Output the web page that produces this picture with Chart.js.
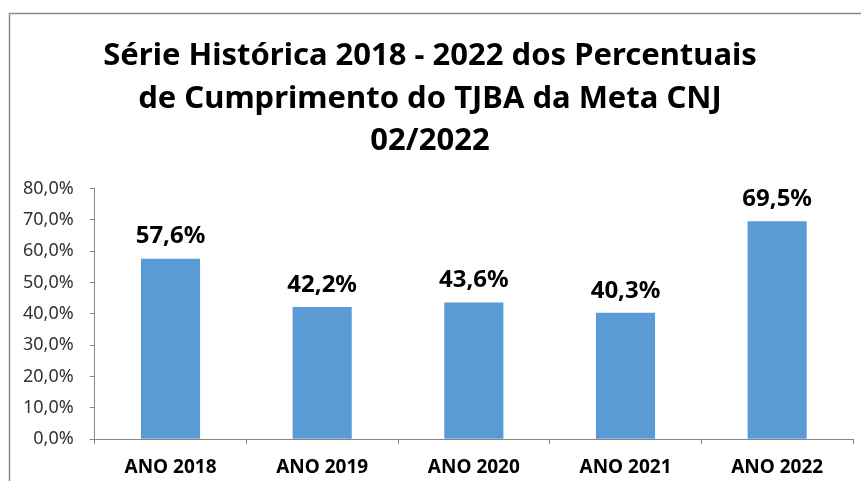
<!DOCTYPE html>
<html>
<head>
<meta charset="utf-8">
<script src="https://cdn.jsdelivr.net/npm/chart.js@4"></script>
<style>
  html, body { margin: 0; padding: 0; background: #fff; }
  #wrap { position: relative; width: 861px; height: 481px; }
</style>
</head>
<body>
<div id="wrap"><canvas id="chart"></canvas></div>
<script>
const titleLines = [
  "Série Histórica 2018 - 2022 dos Percentuais",
  "de Cumprimento do TJBA da Meta CNJ",
  "02/2022",
];
const categories = ["ANO 2018", "ANO 2019", "ANO 2020", "ANO 2021", "ANO 2022"];
const percentValues = [57.6, 42.2, 43.6, 40.3, 69.5];
const yMax = 80;
const yStep = 10;

const fmt = (v) => v.toFixed(1).replace(".", ",") + "%";

// frame around the chart, like the exported picture
const framePlugin = {
  id: "frame",
  beforeDraw(chart) {
    const ctx = chart.ctx;
    ctx.save();
    ctx.strokeStyle = "#8c8c8c";
    ctx.lineWidth = 1.5;
    ctx.beginPath();
    ctx.moveTo(9.5, chart.height);
    ctx.lineTo(9.5, 13.5);
    ctx.lineTo(chart.width, 13.5);
    ctx.stroke();
    ctx.restore();
  },
};

const valueLabels = {
  id: "valueLabels",
  afterDatasetsDraw(chart) {
    const ctx = chart.ctx;
    const meta = chart.getDatasetMeta(0);
    ctx.save();
    ctx.font = "bold 24px 'Noto Sans'";
    ctx.fillStyle = "#000";
    ctx.textAlign = "center";
    ctx.textBaseline = "bottom";
    meta.data.forEach((bar, i) => {
      ctx.fillText(fmt(percentValues[i]), bar.x, bar.y - 10);
    });
    ctx.restore();
  },
};

new Chart(document.getElementById("chart"), {
  type: "bar",
  data: {
    labels: categories,
    datasets: [
      {
        data: percentValues,
        backgroundColor: "#5b9bd5",
        borderWidth: 0,
        categoryPercentage: 1,
        barPercentage: 0.39,
      },
    ],
  },
  options: {
    responsive: true,
    maintainAspectRatio: false,
    animation: false,
    layout: { padding: { left: 7, right: 8, top: 35, bottom: -10 } },
    plugins: {
      legend: { display: false },
      tooltip: { enabled: false },
      title: {
        display: true,
        text: titleLines,
        color: "#000",
        font: { family: "'Noto Sans'", size: 31, weight: "bold", lineHeight: 1.37 },
        padding: { top: 0, bottom: 26 },
      },
    },
    scales: {
      y: {
        min: 0,
        max: yMax,
        ticks: {
          stepSize: yStep,
          color: "#333",
          font: { family: "'Noto Sans'", size: 18 },
          padding: 16,
          callback: (v) => fmt(v),
        },
        grid: { drawOnChartArea: false, tickLength: 5, color: "#868686" },
        border: { color: "#868686" },
      },
      x: {
        ticks: {
          color: "#000",
          font: { family: "'Noto Sans'", size: 19, weight: "bold" },
          padding: 12,
        },
        grid: { drawOnChartArea: false, tickLength: 5, color: "#868686", offset: true },
        border: { color: "#868686" },
      },
    },
  },
  plugins: [framePlugin, valueLabels],
});
</script>
</body>
</html>
